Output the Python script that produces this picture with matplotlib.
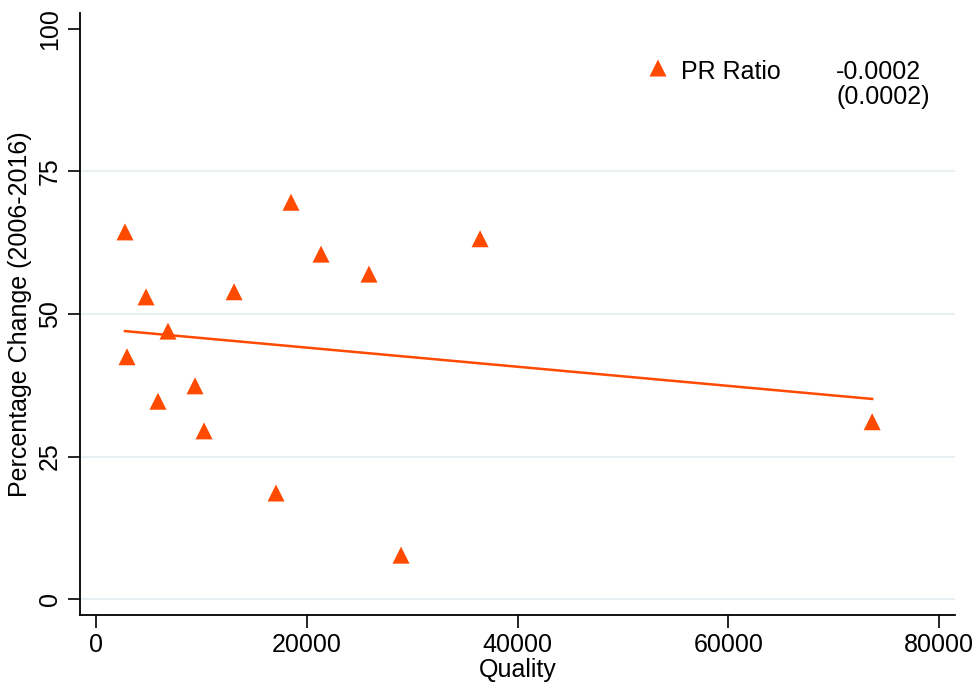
import numpy as np
import matplotlib.pyplot as plt

# ---------------- DATA ----------------
quality = [2750, 2940, 4745, 5880, 6830, 9395, 10250, 13100,
           17080, 18500, 21350, 25900, 28940, 36440, 73640]
pct_change = [64.4, 42.5, 53.0, 34.7, 47.0, 37.4, 29.5, 53.9,
              18.6, 69.6, 60.5, 57.0, 7.7, 63.2, 31.1]

# fitted line endpoints
fit_x = [2750, 73640]
fit_y = [47.0, 35.1]

coef_label = "-0.0002"
se_label = "(0.0002)"

x_ticks = [0, 20000, 40000, 60000, 80000]
y_ticks = [0, 25, 50, 75, 100]

ORANGE = "#FF4A00"
GRID = "#E6EEF2"
FS = 18

plt.rcParams["font.family"] = ["Liberation Sans", "DejaVu Sans"]

fig = plt.figure(figsize=(9.77, 6.85), dpi=100)
W, H = 977, 685
# axes box in pixels: left 80, right 955, top 13, bottom 615
ax = fig.add_axes([80 / W, 1 - 615 / H, (955 - 80) / W, (615 - 13) / H])

ax.set_xlim(-1520, 81500)
ax.set_ylim(-2.8, 102.8)

for yv in y_ticks[:-1]:
    ax.axhline(yv, color=GRID, lw=1.3, zorder=0)

ax.plot(fit_x, fit_y, color=ORANGE, lw=1.8, zorder=2)
ax.scatter(quality, pct_change, marker="^", s=150, color=ORANGE,
           edgecolors="none", zorder=3)

ax.spines["top"].set_visible(False)
ax.spines["right"].set_visible(False)
ax.spines["left"].set_linewidth(1.3)
ax.spines["bottom"].set_linewidth(1.3)

ax.set_xticks(x_ticks)
ax.set_xticklabels([str(v) for v in x_ticks])
ax.set_yticks(y_ticks)
ax.set_yticklabels([str(v) for v in y_ticks], rotation=90, va="center")
ax.tick_params(axis="both", direction="out", length=9, width=1.2,
               labelsize=FS, pad=4)

ax.set_xlabel("Quality", fontsize=FS, labelpad=1)
ax.set_ylabel("Percentage Change (2006-2016)", fontsize=FS, labelpad=4)

# legend-like annotation
ax.scatter([658 / W], [1 - 68 / H], transform=fig.transFigure, marker="^",
           s=150, color=ORANGE, edgecolors="none", clip_on=False)
fig.text(681 / W, 1 - 72 / H, "PR Ratio", fontsize=FS, va="center")
fig.text(836 / W, 1 - 72 / H, coef_label, fontsize=FS, va="center")
fig.text(836 / W, 1 - 97 / H, se_label, fontsize=FS, va="center")

fig.savefig("out.png", dpi=100)
